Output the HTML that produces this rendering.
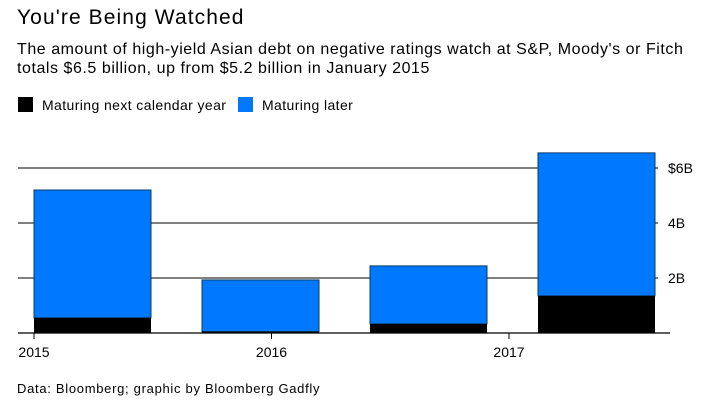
<!DOCTYPE html>
<html><head><meta charset="utf-8"><style>
body{margin:0;background:#fff;font-family:"Liberation Sans",sans-serif;}
#wrap{position:relative;width:720px;height:411px;overflow:hidden;}
.t{position:absolute;color:#000;white-space:nowrap;}
</style></head><body>
<div id="wrap">
<div class="t" style="left:17px;top:6px;font-size:21px;letter-spacing:1.1px;">You're Being Watched</div>
<div class="t" style="left:17px;top:40px;font-size:16px;line-height:19px;letter-spacing:0.55px;">The amount of high-yield Asian debt on negative ratings watch at S&amp;P, Moody's or Fitch<br>totals $6.5 billion, up from $5.2 billion in January 2015</div>
<div style="position:absolute;left:18px;top:97px;width:15px;height:15px;background:#000"></div>
<div class="t" style="left:42px;top:97px;font-size:14px;letter-spacing:0.4px;">Maturing next calendar year</div>
<div style="position:absolute;left:238px;top:97px;width:15px;height:15px;background:#0078ff"></div>
<div class="t" style="left:262px;top:97px;font-size:14px;letter-spacing:0.4px;">Maturing later</div>
<svg id="plot" width="720" height="411" style="position:absolute;left:0;top:0"></svg>
<div class="t" style="left:17px;top:381px;font-size:13px;letter-spacing:0.7px;">Data: Bloomberg; graphic by Bloomberg Gadfly</div>
</div>
<script>
const categories=["Jan 2015","Sep 2015","May 2016","Jan 2017"];
const nextYear=[0.55,0.05,0.33,1.35];
const later=[4.65,1.88,2.11,5.2];
const yTicks=[2,4,6];
const yTickLabels=["2B","4B","$6B"];
const xYears=["2015","2016","2017"];
const svg=document.getElementById('plot');
const NS='http://www.w3.org/2000/svg';
const y0=333,pxPerB=27.5;
const y=v=>y0-v*pxPerB;
const xBar=i=>34+i*168;
const bw=117;
const xYear=i=>34+i*237.5;
function mk(t,a){const e=document.createElementNS(NS,t);for(const k in a)e.setAttribute(k,a[k]);svg.appendChild(e);return e;}
yTicks.forEach((v,i)=>{
 const g=mk('line',{x1:18,x2:658,y1:y(v),y2:y(v),stroke:'#000','stroke-width':1});
 
 
 const t=mk('text',{x:668,y:y(v)+5,'font-size':14,'font-family':'Liberation Sans, sans-serif'});
 t.textContent=yTickLabels[i];
 
 
});
categories.forEach((c,i)=>{
 const tot=nextYear[i]+later[i];
 const r1=mk('rect',{x:xBar(i),y:y(tot),width:bw,height:later[i]*pxPerB,fill:'#0078ff',stroke:'#0b3b66','stroke-width':1});
 
 
 const r2=mk('rect',{x:xBar(i),y:y(nextYear[i]),width:bw,height:nextYear[i]*pxPerB,fill:'#000'});
 
 
});
const ax=mk('line',{x1:18,x2:670,y1:y0,y2:y0,stroke:'#000','stroke-width':1.2});


xYears.forEach((yr,i)=>{
 const tk=mk('line',{x1:xYear(i),x2:xYear(i),y1:y0,y2:y0+6,stroke:'#000'});
 
 
 const t=mk('text',{x:xYear(i),y:y0+24,'font-size':14,'text-anchor':'middle','font-family':'Liberation Sans, sans-serif'});
 t.textContent=yr;
 
 
});
</script>
</body></html>
